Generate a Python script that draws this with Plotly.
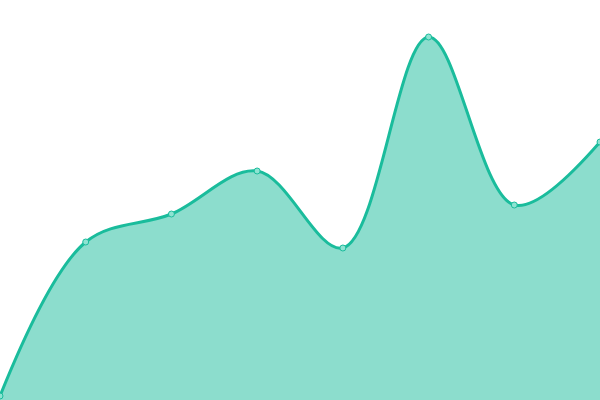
import plotly.graph_objects as go

# values (plot area is 0..400 high)
x_vals = [0, 1, 2, 3, 4, 5, 6, 7]
y_vals = [4, 158, 186, 229, 152, 363, 195, 258]

line_color = "#1abc9c"
fill_color = "rgba(26,188,156,0.5)"

fig = go.Figure()
fig.add_trace(go.Scatter(
    x=x_vals,
    y=y_vals,
    mode="lines+markers",
    fill="tozeroy",
    fillcolor=fill_color,
    line=dict(color=line_color, width=3, shape="spline", smoothing=1),
    marker=dict(size=6, color="#8ee3d2", line=dict(color=line_color, width=1)),
    cliponaxis=False,
    hoverinfo="skip",
))

fig.update_layout(
    width=600,
    height=400,
    margin=dict(l=0, r=0, t=0, b=0),
    paper_bgcolor="white",
    plot_bgcolor="white",
    showlegend=False,
    xaxis=dict(visible=False, range=[0, 7]),
    yaxis=dict(visible=False, range=[0, 400]),
)

# the page body has a default 8px margin, drop it so the chart fills the window
fig.write_html(
    "out.html",
    config={"displayModeBar": False},
    post_script="document.body.style.margin='0';document.body.style.overflow='hidden';",
)
